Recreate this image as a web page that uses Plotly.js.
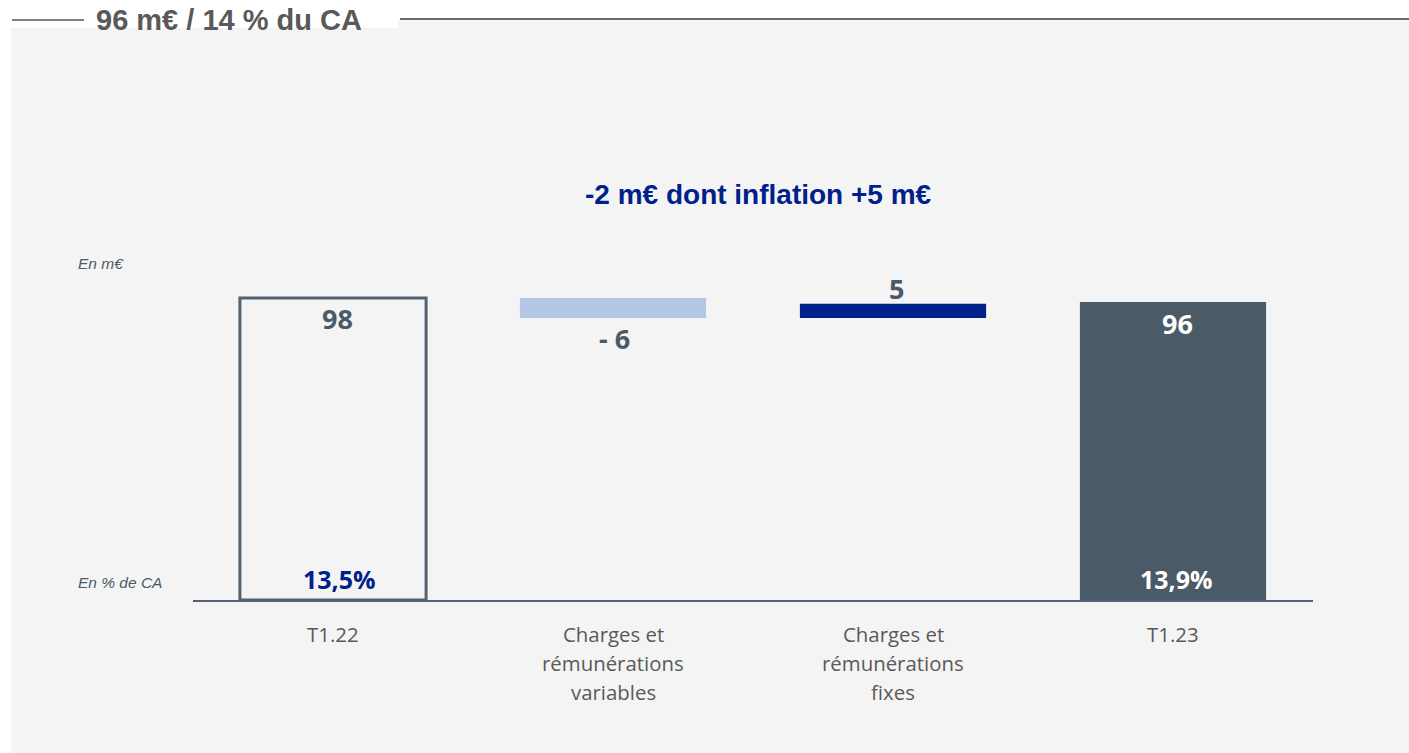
<!DOCTYPE html>
<html>
<head>
<meta charset="utf-8">
<script src="https://cdn.plot.ly/plotly-3.0.1.min.js"></script>
<style>
html,body{margin:0;padding:0;background:#ffffff;}
#chart{width:1409px;height:753px;}
</style>
</head>
<body>
<div id="chart"></div>
<script>
// ---- data ----
const categories = ["T1.22", "Charges et<br>rémunérations<br>variables", "Charges et<br>rémunérations<br>fixes", "T1.23"];
const startValue = 98;
const variableDelta = -6.5;
const fixedDelta = 4.6;
const endValue = 96.7;
const valueLabels = ["98", "- 6", "5", "96"];
const shareLabels = ["13,5%", "", "", "13,9%"];

// ---- geometry helpers (pixel -> paper) ----
const W = 1409, H = 753;
const PL = 193, PR = 1313, PT = 261, PB = 600;
const px = x => (x - PL) / (PR - PL);
const py = y => (PB - y) / (PB - PT);

const xs = [0, 1, 2, 3];
const barW = 0.665;
const varBase = startValue;
const fixBase = startValue + variableDelta;

const traces = [
  {type: "bar", x: [xs[0]], y: [startValue], base: [0], width: barW,
   marker: {color: "rgba(0,0,0,0)", line: {color: "#526270", width: 3}}, hoverinfo: "skip"},
  {type: "bar", x: [xs[1]], y: [variableDelta], base: [varBase], width: barW,
   marker: {color: "#b4c7e7", line: {width: 0}}, hoverinfo: "skip"},
  {type: "bar", x: [xs[2]], y: [fixedDelta], base: [fixBase], width: barW,
   marker: {color: "#00218a", line: {width: 0}}, hoverinfo: "skip"},
  {type: "bar", x: [xs[3]], y: [endValue], base: [0], width: barW,
   marker: {color: "#4a5a67", line: {width: 0}}, hoverinfo: "skip"}
];

const lblFont = (c, s) => ({family: "Open Sans, Noto Sans, sans-serif", size: s, color: c});
const arial = (c, s) => ({family: "Liberation Sans, Arial, sans-serif", size: s, color: c});

const annotations = [
  // value labels
  {x: xs[0], y: startValue, xref: "x", yref: "y", text: "<b>" + valueLabels[0] + "</b>", showarrow: false,
   yanchor: "middle", yshift: -21, xshift: 4, font: lblFont("#4a5a67", 27)},
  {x: xs[1], y: varBase + variableDelta, xref: "x", yref: "y", text: "<b>" + valueLabels[1] + "</b>", showarrow: false,
   yanchor: "middle", yshift: -20, xshift: 1, font: lblFont("#4a5a67", 27)},
  {x: xs[2], y: fixBase + fixedDelta, xref: "x", yref: "y", text: "<b>" + valueLabels[2] + "</b>", showarrow: false,
   yanchor: "middle", yshift: 15, xshift: 3, font: lblFont("#4a5a67", 27)},
  {x: xs[3], y: endValue, xref: "x", yref: "y", text: "<b>" + valueLabels[3] + "</b>", showarrow: false,
   yanchor: "middle", yshift: -22, xshift: 4, font: lblFont("#ffffff", 27)},
  // share labels
  {x: xs[0], y: 0, xref: "x", yref: "y", text: "<b>" + shareLabels[0] + "</b>", showarrow: false,
   yanchor: "middle", yshift: 21, xshift: 6, font: lblFont("#00218a", 25)},
  {x: xs[3], y: 0, xref: "x", yref: "y", text: "<b>" + shareLabels[3] + "</b>", showarrow: false,
   yanchor: "middle", yshift: 21, xshift: 3, font: lblFont("#ffffff", 25)},
  // side labels
  {x: px(76), y: py(263), xref: "paper", yref: "paper", text: "<i>En m€</i>", showarrow: false,
   xanchor: "left", yanchor: "middle", font: arial("#4a5a67", 15.5)},
  {x: px(76), y: py(582), xref: "paper", yref: "paper", text: "<i>En % de CA</i>", showarrow: false,
   xanchor: "left", yanchor: "middle", font: arial("#4a5a67", 15.5)},
  // subtitle
  {x: px(758), y: py(195), xref: "paper", yref: "paper", text: "<b>-2 m€ dont inflation +5 m€</b>", showarrow: false,
   xanchor: "center", yanchor: "middle", font: arial("#00218a", 28)},
  // top header
  {x: px(94), y: py(20), xref: "paper", yref: "paper", text: "<b>96 m€ / 14 % du CA</b>", showarrow: false,
   xanchor: "left", yanchor: "middle", font: arial("#595959", 29)}
];

// category labels, one annotation per line to control line spacing
categories.forEach((c, i) => {
  c.split("<br>").forEach((line, j) => {
    annotations.push({x: xs[i], y: py(634 + 29 * j), xref: "x", yref: "paper", text: line, showarrow: false,
      xanchor: "center", yanchor: "middle", font: lblFont("#595959", 20.4)});
  });
});

const shapes = [
  {type: "rect", xref: "paper", yref: "paper", x0: px(11), x1: px(1409), y0: py(753), y1: py(20),
   fillcolor: "#f4f4f4", line: {width: 0}, layer: "below"},
  {type: "rect", xref: "paper", yref: "paper", x0: px(0), x1: px(398), y0: py(28), y1: py(0),
   fillcolor: "#ffffff", line: {width: 0}, layer: "below"},
  {type: "line", xref: "paper", yref: "paper", x0: px(12), x1: px(84), y0: py(20), y1: py(20),
   line: {color: "#595959", width: 1.5}, layer: "below"},
  {type: "line", xref: "paper", yref: "paper", x0: px(400), x1: px(1409), y0: py(19), y1: py(19),
   line: {color: "#6a6a6a", width: 2}, layer: "below"}
];

const layout = {
  width: W, height: H,
  margin: {l: PL, r: W - PR, t: PT, b: H - PB, pad: 0},
  paper_bgcolor: "#ffffff",
  plot_bgcolor: "rgba(0,0,0,0)",
  showlegend: false,
  barmode: "overlay",
  xaxis: {
    range: [-0.5, 3.5], tickmode: "array", tickvals: xs, ticktext: categories, showticklabels: false,
    showgrid: false, zeroline: false, showline: true, linecolor: "#526270", linewidth: 2,
    ticks: "", fixedrange: true
  },
  yaxis: {range: [0, 110], visible: false, showgrid: false, zeroline: false, fixedrange: true},
  annotations: annotations,
  shapes: shapes
};

Plotly.newPlot("chart", traces, layout, {displayModeBar: false, staticPlot: true});
</script>
</body>
</html>
